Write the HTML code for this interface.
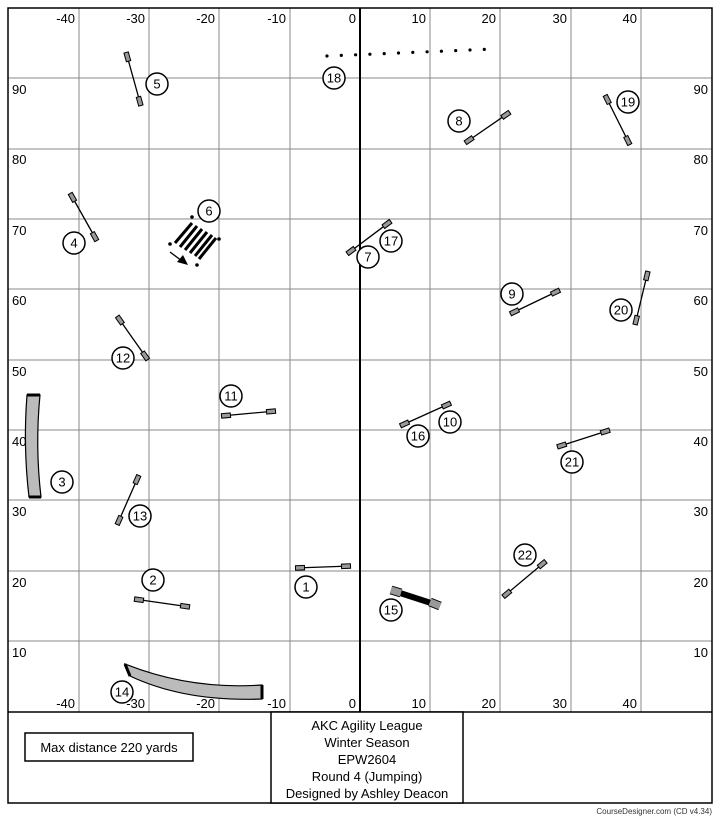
<!DOCTYPE html>
<html><head><meta charset="utf-8"><style>
body{margin:0;background:#fff;}
svg{display:block;font-family:"Liberation Sans",sans-serif;}
</style></head><body>
<svg id="s" width="725" height="821" viewBox="0 0 725 821" xmlns="http://www.w3.org/2000/svg">
<rect x="0" y="0" width="725" height="821" fill="#fff"/>
<g stroke="#888" stroke-width="1">
<line x1="79" y1="8" x2="79" y2="712"/><line x1="149" y1="8" x2="149" y2="712"/><line x1="219" y1="8" x2="219" y2="712"/><line x1="290" y1="8" x2="290" y2="712"/>
<line x1="430" y1="8" x2="430" y2="712"/><line x1="500" y1="8" x2="500" y2="712"/><line x1="571" y1="8" x2="571" y2="712"/><line x1="641" y1="8" x2="641" y2="712"/>
<line x1="8" y1="78" x2="712" y2="78"/><line x1="8" y1="149" x2="712" y2="149"/><line x1="8" y1="219" x2="712" y2="219"/><line x1="8" y1="289" x2="712" y2="289"/><line x1="8" y1="360" x2="712" y2="360"/><line x1="8" y1="430" x2="712" y2="430"/><line x1="8" y1="500" x2="712" y2="500"/><line x1="8" y1="571" x2="712" y2="571"/><line x1="8" y1="641" x2="712" y2="641"/>
</g>
<line x1="360" y1="8" x2="360" y2="712" stroke="#000" stroke-width="2"/>
<rect x="8" y="8" width="704" height="795" fill="none" stroke="#000" stroke-width="1.5"/>
<line x1="8" y1="712" x2="712" y2="712" stroke="#000" stroke-width="1.5"/>
<g font-size="13" fill="#000" text-anchor="end">
<text x="75" y="23">-40</text><text x="145" y="23">-30</text><text x="215" y="23">-20</text><text x="286" y="23">-10</text><text x="356" y="23">0</text><text x="426" y="23">10</text><text x="496" y="23">20</text><text x="567" y="23">30</text><text x="637" y="23">40</text>
<text x="75" y="708">-40</text><text x="145" y="708">-30</text><text x="215" y="708">-20</text><text x="286" y="708">-10</text><text x="356" y="708">0</text><text x="426" y="708">10</text><text x="496" y="708">20</text><text x="567" y="708">30</text><text x="637" y="708">40</text>
<text x="708" y="94">90</text><text x="708" y="164">80</text><text x="708" y="235">70</text><text x="708" y="305">60</text><text x="708" y="376">50</text><text x="708" y="446">40</text><text x="708" y="516">30</text><text x="708" y="587">20</text><text x="708" y="657">10</text>
</g>
<g font-size="13" fill="#000">
<text x="12" y="94">90</text><text x="12" y="164">80</text><text x="12" y="235">70</text><text x="12" y="305">60</text><text x="12" y="376">50</text><text x="12" y="446">40</text><text x="12" y="516">30</text><text x="12" y="587">20</text><text x="12" y="657">10</text>
</g>
<!-- tunnel 3 -->
<path d="M27 395 Q23 446 29 497 L41 497 Q35 446 40 395 Z" fill="#bbb" stroke="#000" stroke-width="1.2"/>
<line x1="27" y1="395" x2="40" y2="395" stroke="#000" stroke-width="3"/>
<line x1="29" y1="497" x2="41" y2="497" stroke="#000" stroke-width="3"/>
<!-- tunnel 14 -->
<path d="M125 664 Q190 690 262 685 L262 699 Q185 702 130 676 Z" fill="#bbb" stroke="#000" stroke-width="1.2"/>
<line x1="125" y1="664" x2="130" y2="676" stroke="#000" stroke-width="3"/>
<line x1="262" y1="685" x2="262" y2="699" stroke="#000" stroke-width="3"/>
<!-- tire 15 -->
<line x1="397" y1="592" x2="434" y2="604" stroke="#000" stroke-width="6"/>
<line x1="391" y1="590" x2="401" y2="593" stroke="#000" stroke-width="9"/><line x1="391" y1="590" x2="401" y2="593" stroke="#999" stroke-width="7"/>
<line x1="430" y1="602" x2="440" y2="606" stroke="#000" stroke-width="9"/><line x1="430" y1="602" x2="440" y2="606" stroke="#999" stroke-width="7"/>
<!-- weave/broad 6 -->
<g stroke="#000" stroke-width="3">
<line x1="192" y1="223" x2="175" y2="243"/><line x1="197" y1="226" x2="180" y2="247"/><line x1="202" y1="229" x2="185" y2="250"/><line x1="207" y1="232" x2="190" y2="253"/><line x1="212" y1="235" x2="195" y2="256"/><line x1="216" y1="238" x2="199" y2="259"/>
</g>
<g fill="#000"><circle cx="192" cy="217" r="1.8"/><circle cx="219" cy="239" r="1.8"/><circle cx="170" cy="244" r="1.8"/><circle cx="197" cy="265" r="1.8"/></g>
<line x1="170" y1="252" x2="182" y2="261" stroke="#000" stroke-width="1.3"/>
<polygon points="188,265 177,262 183,255" fill="#000"/>
<g id="dots" fill="#000"></g>
<g id="jumps"></g>
<g id="nums" font-size="13" text-anchor="middle"></g>
<rect x="25" y="733" width="168" height="28" fill="#fff" stroke="#000" stroke-width="1.5"/>
<text x="109" y="752" font-size="13" text-anchor="middle">Max distance 220 yards</text>
<rect x="271" y="712" width="192" height="91" fill="#fff" stroke="#000" stroke-width="1.5"/>
<g font-size="13" text-anchor="middle">
<text x="367" y="730">AKC Agility League</text><text x="367" y="747">Winter Season</text><text x="367" y="764">EPW2604</text><text x="367" y="781">Round 4 (Jumping)</text><text x="367" y="798">Designed by Ashley Deacon</text>
</g>
<text x="712" y="814" font-size="8" text-anchor="end" fill="#333">CourseDesigner.com (CD v4.34)</text>
</svg>
<script>
var NS="http://www.w3.org/2000/svg";
function el(p,t,a){var e=document.createElementNS(NS,t);for(var k in a)e.setAttribute(k,a[k]);p.appendChild(e);return e;}
var J=document.getElementById("jumps");
var jumps=[[126,52,141,106],[605,95,630,145],[465,143,510,112],[70,193,97,241],[347,254,391,221],[510,314,560,290],[635,325,648,271],[117,316,148,360],[221,416,276,411],[400,426,451,403],[557,447,610,430],[117,525,139,475],[503,597,546,561],[295,568,351,566],[134,599,190,607]];
jumps.forEach(function(j){
 var dx=j[2]-j[0],dy=j[3]-j[1],L=Math.hypot(dx,dy),ux=dx/L,uy=dy/L;
 el(J,"line",{x1:j[0],y1:j[1],x2:j[2],y2:j[3],stroke:"#000","stroke-width":1.3});
 [[j[0],j[1],1],[j[2],j[3],-1]].forEach(function(p){
  var x2=p[0]+ux*10*p[2],y2=p[1]+uy*10*p[2];
  el(J,"line",{x1:p[0],y1:p[1],x2:x2,y2:y2,stroke:"#000","stroke-width":5.5});
  el(J,"line",{x1:p[0]+ux*p[2],y1:p[1]+uy*p[2],x2:x2-ux*p[2],y2:y2-uy*p[2],stroke:"#999","stroke-width":3.5});
 });
});
var D=document.getElementById("dots");
for(var i=0;i<12;i++){el(D,"circle",{cx:327+i*14.3,cy:56-i*0.6,r:1.6});}
var N=document.getElementById("nums");
var nums=[[1,306,587],[2,153,580],[3,62,482],[4,74,243],[5,157,84],[6,209,211],[7,368,257],[8,459,121],[9,512,294],[10,450,422],[11,231,396],[12,123,358],[13,140,516],[14,122,692],[15,391,610],[16,418,436],[17,391,241],[18,334,78],[19,628,102],[20,621,310],[21,572,462],[22,525,555]];
nums.forEach(function(n){
 el(N,"circle",{cx:n[1],cy:n[2],r:11,fill:"#fff",stroke:"#000","stroke-width":1.5});
 var t=el(N,"text",{x:n[1],y:n[2]+4.5});t.textContent=n[0];
});
</script>
</body></html>
